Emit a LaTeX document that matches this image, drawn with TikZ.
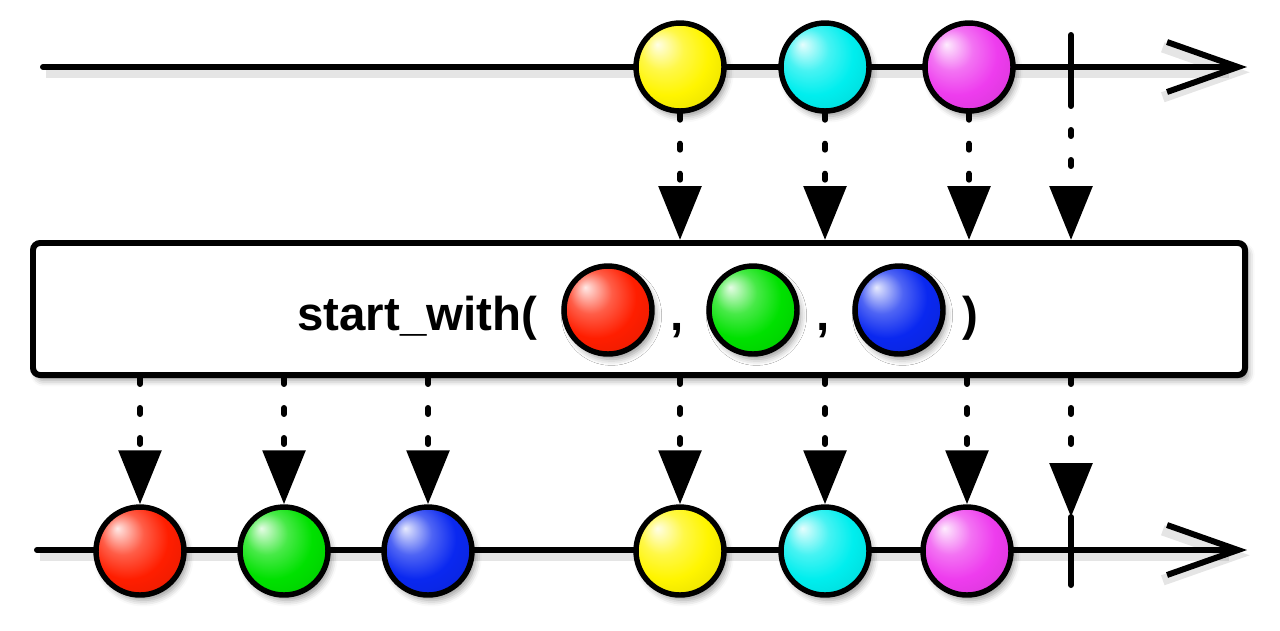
\documentclass[tikz,border=0pt]{standalone}
\usepackage{fontspec}
\setmainfont{Liberation Sans}
\definecolor{mbyellow}{RGB}{255,245,0}
\definecolor{mbcyan}{RGB}{0,238,238}
\definecolor{mbmagenta}{RGB}{238,60,238}
\definecolor{mbred}{RGB}{255,30,0}
\definecolor{mbgreen}{RGB}{0,225,0}
\definecolor{mbblue}{RGB}{10,40,240}
\usetikzlibrary{arrows.meta,calc,shadows.blur}

%% glossy marble fill, highlight top left
\makeatletter
\pgfdeclareradialshading[tikz@ball]{marble}{\pgfqpoint{-13bp}{13bp}}{%
  color(0bp)=(tikz@ball!10!white); color(12bp)=(tikz@ball!72!white);
  color(23bp)=(tikz@ball); color(34bp)=(tikz@ball!92!black);
  color(46bp)=(tikz@ball!72!black); color(50bp)=(tikz@ball!64!black)}
\makeatother

\tikzset{
  softshadow/.style={preaction={draw=black,opacity=0.10,line width=6pt,
    transform canvas={xshift=1.5pt,yshift=-3pt}}},
  timeline/.style={line width=3.4pt,line cap=round,softshadow,
    -{Straight Barb[length=1.42cm,width=1cm]}},
  tickmark/.style={line width=3.4pt,line cap=round},
  marble/.style={circle,draw=black,line width=3.1pt,minimum size=1.76cm,inner sep=0pt,
    ball color=#1,shading=marble,
    blur shadow={shadow xshift=2pt,shadow yshift=-3pt,shadow blur radius=3.5pt,shadow opacity=40}},
  opbox/.style={draw=black,line width=3.4pt,rounded corners=4pt,fill=white,
    blur shadow={shadow xshift=2pt,shadow yshift=-3pt,shadow blur radius=3.5pt,shadow opacity=40}},
  optext/.style={font=\fontsize{27}{32}\selectfont\bfseries,inner sep=0pt},
  flow/.style={line width=3.4pt,line cap=round,dash pattern=on 0.12cm off 0.48cm,
    -{Triangle[length=1.08cm,width=0.84cm,fill=black,line join=miter]}}
}

\begin{document}
\begin{tikzpicture}[x=0.02cm,y=-0.02cm]
  \useasboundingbox (0,0) rectangle (1280,630);

  %% source timeline
  \coordinate (srcStart) at (43,67);
  \coordinate (srcStop) at (1247,67);
  \draw[timeline] (srcStart) -- (srcStop);
  \node[marble=mbyellow] (srcY) at (680,67) {};
  \node[marble=mbcyan] (srcC) at (825,67) {};
  \node[marble=mbmagenta] (srcM) at (969,67) {};
  \coordinate (srcEnd) at (1071,67);
  \coordinate (srcEndLow) at (1071,100);
  \draw[tickmark] (1071,35) -- (srcEndLow);

  %% operator box
  \path[opbox] (33,243) rectangle (1245,375);
  \node[inner sep=0pt,outer sep=1.7pt,minimum width=1212*0.02cm,minimum height=132*0.02cm] (op) at (639,309) {};
  \node[optext,anchor=base west] (opname) at (297,330) {start\_with(};
  \node[marble=mbred] (argR) at (608,310) {};
  \node[optext,anchor=base] (sepA) at (677,330) {,};
  \node[marble=mbgreen] (argG) at (753,310) {};
  \node[optext,anchor=base] (sepB) at (823,330) {,};
  \node[marble=mbblue] (argB) at (899,310) {};
  \node[optext,anchor=base] (close) at (970,330) {)};

  %% into the operator
  \draw[flow] (srcY.south) -- (srcY.south |- op.north);
  \draw[flow] (srcC.south) -- (srcC.south |- op.north);
  \draw[flow] (srcM.south) -- (srcM.south |- op.north);
  \draw[flow] (srcEndLow) -- (srcEndLow |- op.north);

  %% result timeline
  \coordinate (resStart) at (37,550);
  \coordinate (resStop) at (1247,550);
  \draw[timeline] (resStart) -- (resStop);
  \node[marble=mbred] (resR) at (140,551) {};
  \node[marble=mbgreen] (resG) at (284,551) {};
  \node[marble=mbblue] (resB) at (428,551) {};
  \node[marble=mbyellow] (resY) at (680,551) {};
  \node[marble=mbcyan] (resC) at (825,551) {};
  \node[marble=mbmagenta] (resM) at (967,551) {};
  \coordinate (resEnd) at (1071,550);
  \coordinate (resEndTop) at (1071,517);
  \draw[tickmark] (resEndTop) -- (1071,585);

  %% out of the operator
  \draw[flow] (resR.north |- op.south) -- (resR.north);
  \draw[flow] (resG.north |- op.south) -- (resG.north);
  \draw[flow] (resB.north |- op.south) -- (resB.north);
  \draw[flow] (resY.north |- op.south) -- (resY.north);
  \draw[flow] (resC.north |- op.south) -- (resC.north);
  \draw[flow] (resM.north |- op.south) -- (resM.north);
  \draw[flow] (resEndTop |- op.south) -- (resEndTop);
\end{tikzpicture}
\end{document}
